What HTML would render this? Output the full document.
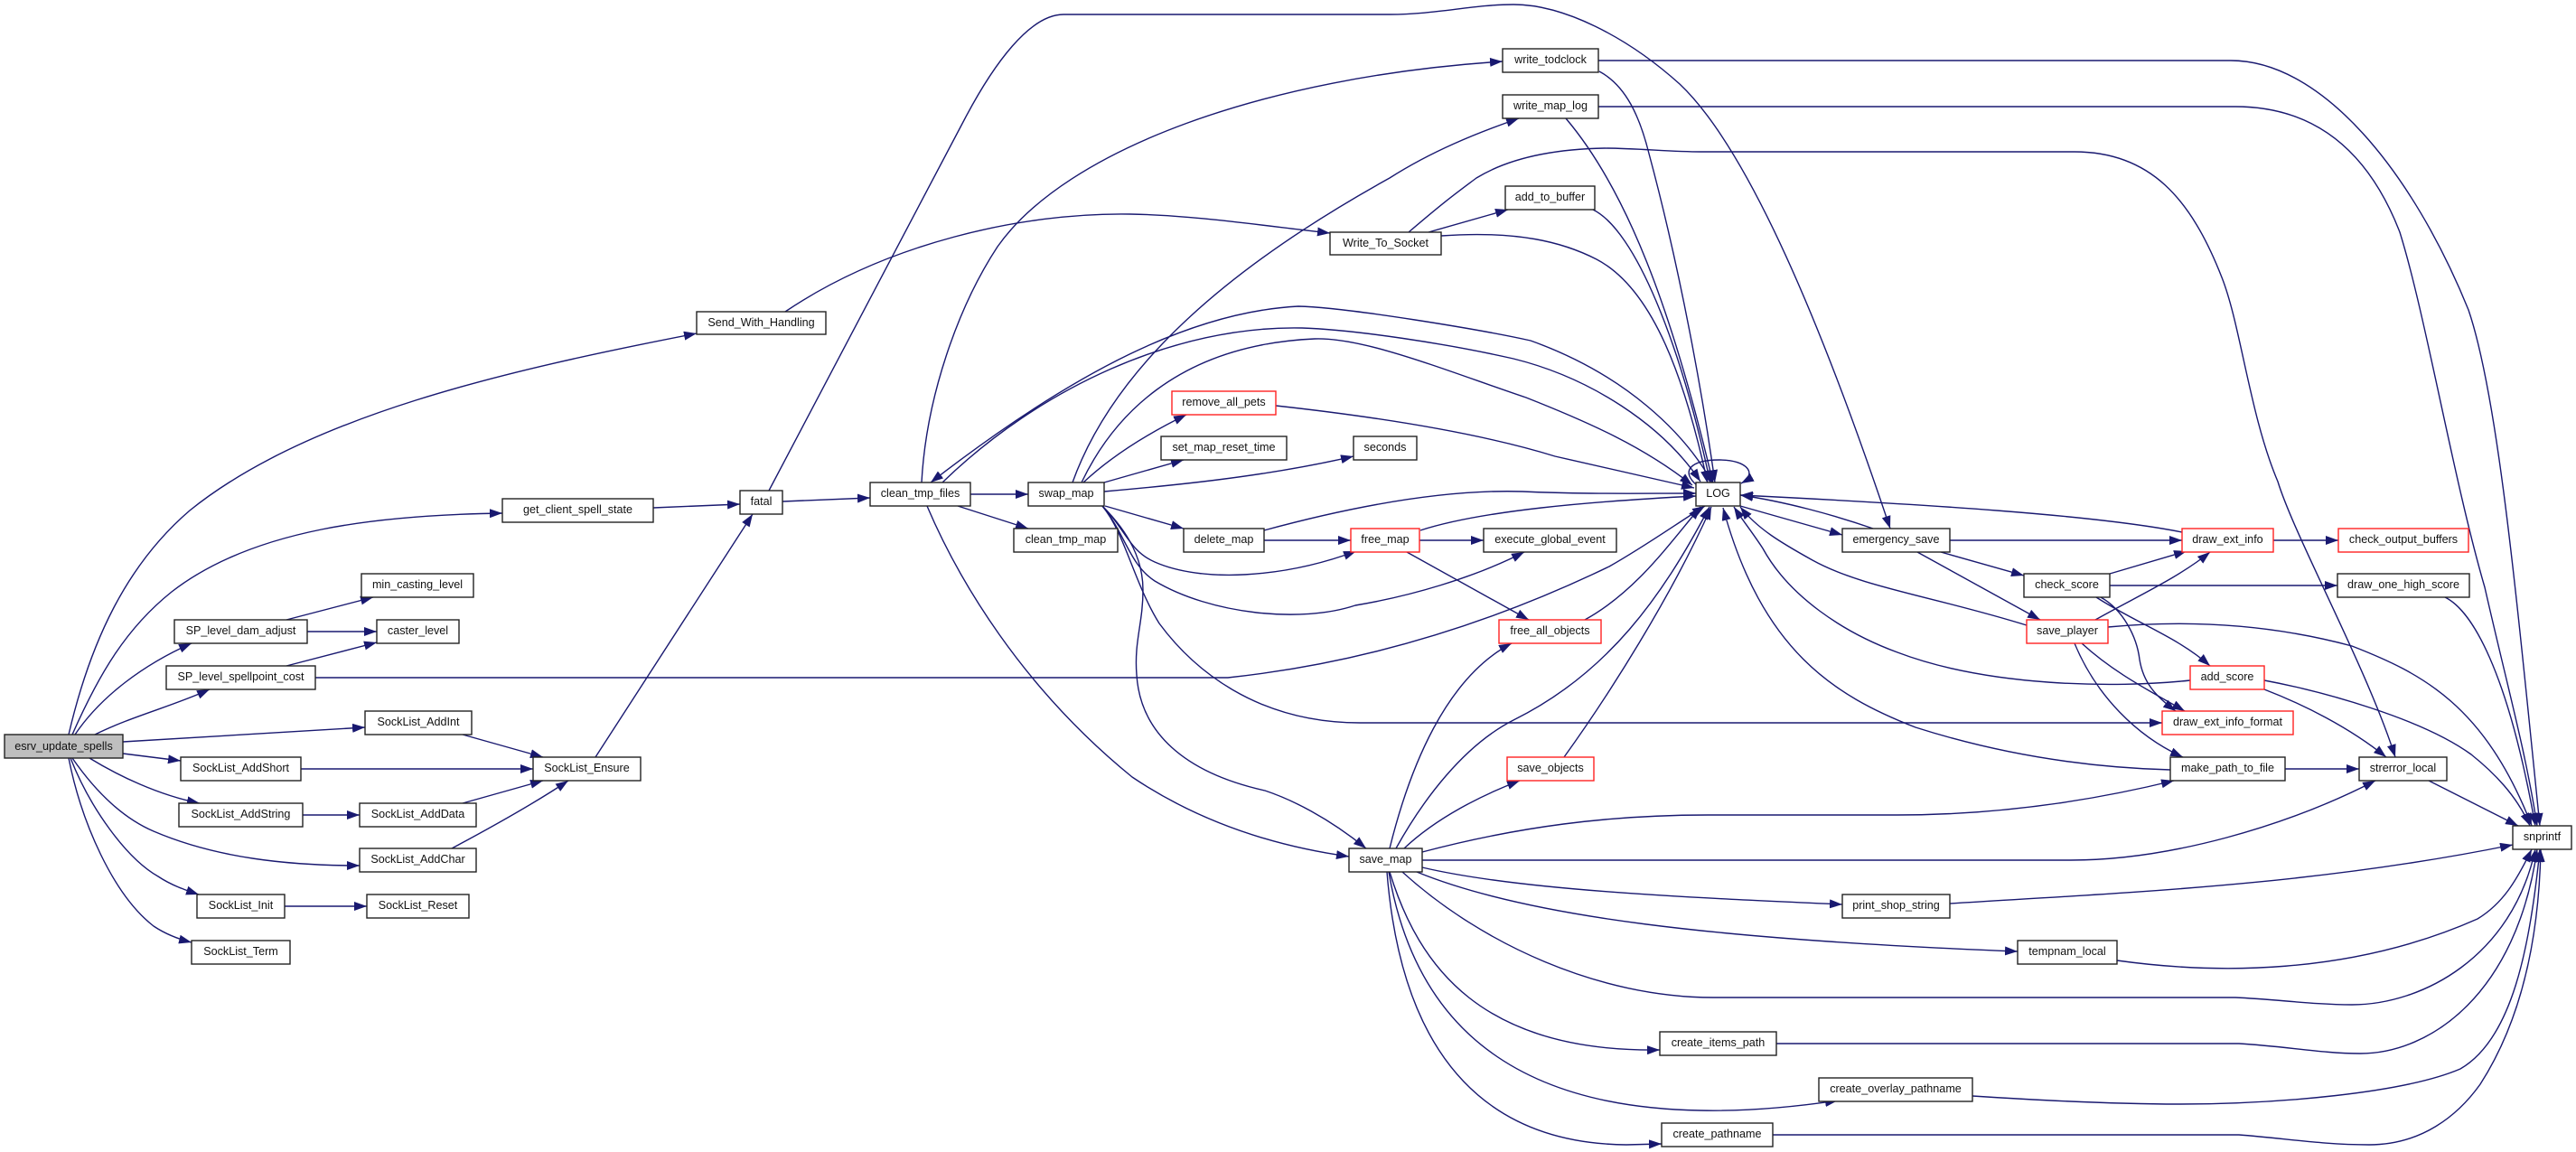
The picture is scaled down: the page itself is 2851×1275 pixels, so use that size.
<!DOCTYPE html>
<html><head><meta charset="utf-8"><style>
html,body{margin:0;padding:0;background:#fff}
svg{display:block}
.e path{fill:none;stroke:#191970;stroke-width:1.4;marker-end:url(#a)}
.n rect{fill:#fff;stroke:#222;stroke-width:1.4}
.n rect.r{stroke:#f22}
.n rect.g{fill:#bfbfbf}
text{font-family:"Liberation Sans",sans-serif;font-size:12.6px;fill:#111;text-anchor:middle}
</style></head><body>
<svg width="2851" height="1275" viewBox="0 0 2851 1275" xmlns="http://www.w3.org/2000/svg">
<defs><marker id="a" markerUnits="userSpaceOnUse" markerWidth="14" markerHeight="10" refX="14" refY="5" orient="auto"><path d="M0,0L14,5L0,10z" fill="#191970"/></marker></defs>
<g class="e">
<path d="M76,813C100,710 140,625 210,565C340,460 560,410 771,369"/>
<path d="M80,813C110,745 140,695 190,655C280,585 420,570 556,568"/>
<path d="M83,813C112,770 160,735 212,712"/>
<path d="M105,813C145,793 190,782 232,763"/>
<path d="M136,821L404,805"/>
<path d="M136,834L200,842"/>
<path d="M99,839C130,858 175,880 221,889"/>
<path d="M80,839C105,875 135,905 170,920C240,950 320,958 398,958"/>
<path d="M78,839C100,895 140,950 175,970C190,980 205,985 220,990"/>
<path d="M76,839C90,910 125,990 170,1025C185,1035 200,1040 212,1043"/>
<path d="M317,686L413,661"/>
<path d="M340,699L417,699"/>
<path d="M317,737L417,711"/>
<path d="M349,750L1359,750C1500,735 1640,695 1781,627C1820,605 1855,580 1887,560"/>
<path d="M512,813L601,838"/>
<path d="M333,851L590,851"/>
<path d="M335,902L398,902"/>
<path d="M512,889L601,864"/>
<path d="M500,939C545,915 590,890 629,864"/>
<path d="M315,1003L406,1003"/>
<path d="M659,838L833,569"/>
<path d="M723,562L819,558"/>
<path d="M866,555L963,551"/>
<path d="M851,543L1067,133C1100,70 1140,16 1177,16L1538,16C1590,16 1630,5 1675,5C1730,5 1800,40 1859,93C1930,160 2010,340 2092,585"/>
<path d="M1074,547L1138,547"/>
<path d="M1060,560L1138,585"/>
<path d="M1020,534C1025,440 1060,340 1104,273C1180,165 1400,85 1663,68"/>
<path d="M1026,560C1060,640 1130,760 1253,860C1320,905 1400,935 1493,948"/>
<path d="M1187,534C1235,400 1370,290 1538,197C1585,167 1635,147 1681,131"/>
<path d="M1895,534C1865,480 1800,415 1694,377C1640,365 1490,340 1437,339C1320,345 1190,410 1030,534"/>
<path d="M1043,534C1150,430 1300,360 1441,363C1500,365 1600,380 1675,397C1760,418 1840,470 1882,533"/>
<path d="M1197,534C1230,465 1300,382 1455,375C1510,373 1600,410 1689,440C1760,468 1820,495 1873,537"/>
<path d="M1199,534C1230,505 1270,480 1313,459"/>
<path d="M1222,534L1310,509"/>
<path d="M1222,544C1290,538 1400,528 1498,505"/>
<path d="M1223,560L1310,585"/>
<path d="M1220,560C1245,585 1250,610 1278,622C1330,645 1420,640 1501,610"/>
<path d="M1220,560C1245,590 1250,625 1278,643C1340,680 1440,690 1500,670C1560,660 1630,640 1687,611"/>
<path d="M1220,560C1245,590 1255,645 1283,690C1320,740 1390,800 1505,800L2393,800"/>
<path d="M1220,560C1250,590 1265,620 1265,653C1265,690 1255,710 1258,747C1262,810 1310,855 1400,875C1430,885 1470,905 1512,939"/>
<path d="M1878,537C1860,522 1870,509 1903,509C1935,509 1945,525 1927,535"/>
<path d="M1770,79C1800,95 1815,130 1825,170C1860,300 1885,440 1898,534"/>
<path d="M1733,131C1800,210 1850,340 1896,535"/>
<path d="M1763,232C1810,255 1860,380 1893,535"/>
<path d="M1595,261C1680,255 1730,268 1767,287C1830,320 1865,420 1890,535"/>
<path d="M1581,257L1669,232"/>
<path d="M1559,257C1600,222 1610,215 1634,197C1670,175 1720,165 1776,164C1810,164 1850,168 1882,168L2296,168C2380,168 2425,220 2459,307C2480,360 2490,460 2521,533C2540,595 2620,740 2651,838"/>
<path d="M1769,67L2469,67C2570,67 2670,190 2732,343C2765,440 2785,660 2811,914"/>
<path d="M1769,118L2474,118C2580,118 2630,190 2656,257C2685,350 2715,530 2750,650C2775,760 2795,830 2808,914"/>
<path d="M2706,661C2735,675 2775,740 2806,914"/>
<path d="M2333,694C2420,686 2510,690 2603,715C2680,745 2750,780 2802,914"/>
<path d="M2506,753C2570,765 2680,795 2735,835C2760,855 2785,880 2800,914"/>
<path d="M2506,763C2550,780 2600,805 2641,838"/>
<path d="M2424,753C2340,762 2200,760 2100,722C2040,700 1980,660 1951,607C1940,590 1928,575 1919,561"/>
<path d="M2243,692C2140,660 2060,650 2006,620C1970,600 1945,585 1926,561"/>
<path d="M2402,852C2330,850 2230,840 2120,805C2030,770 1950,720 1907,562"/>
<path d="M1926,560L2039,592"/>
<path d="M2073,585C2030,570 1975,555 1926,548"/>
<path d="M2415,589C2320,570 2130,558 1926,548"/>
<path d="M2158,598L2415,598"/>
<path d="M2148,611L2240,637"/>
<path d="M2122,611L2258,686"/>
<path d="M2335,635L2420,610"/>
<path d="M2335,648L2587,648"/>
<path d="M2320,661C2365,690 2410,705 2446,737"/>
<path d="M2325,661C2350,675 2365,705 2368,730C2372,755 2385,770 2408,787"/>
<path d="M2319,686C2365,660 2410,640 2446,611"/>
<path d="M2304,712C2340,745 2380,765 2418,787"/>
<path d="M2296,712C2320,770 2365,815 2416,838"/>
<path d="M2516,598L2588,598"/>
<path d="M2529,851L2611,851"/>
<path d="M2688,864L2787,914"/>
<path d="M1572,587C1640,565 1760,555 1877,549"/>
<path d="M1399,587C1480,565 1590,541 1685,544C1750,547 1810,546 1877,546"/>
<path d="M1399,598L1495,598"/>
<path d="M1412,449C1530,462 1640,480 1721,505L1875,540"/>
<path d="M1571,598L1642,598"/>
<path d="M1557,611L1692,686"/>
<path d="M1754,686C1810,655 1845,605 1882,561"/>
<path d="M1538,939C1560,850 1600,750 1673,712"/>
<path d="M1545,939C1575,885 1620,825 1675,797C1780,745 1840,660 1892,561"/>
<path d="M1731,838C1780,770 1850,660 1894,561"/>
<path d="M1554,939C1590,905 1640,880 1682,864"/>
<path d="M1574,943C1680,915 1780,902 1890,902L2100,902C2200,902 2300,890 2406,864"/>
<path d="M1574,952L2292,952C2400,952 2530,915 2629,864"/>
<path d="M1574,960C1680,985 1860,993 2039,1001"/>
<path d="M2158,1000C2350,988 2560,980 2781,935"/>
<path d="M1568,965C1690,1015 1900,1040 2233,1053"/>
<path d="M2343,1063C2450,1078 2600,1080 2742,1017C2770,1000 2785,975 2802,940"/>
<path d="M1552,965C1640,1045 1770,1104 1896,1104L2474,1104C2520,1106 2560,1112 2603,1112C2680,1112 2780,1060 2806,940"/>
<path d="M1538,965C1570,1070 1640,1165 1837,1162"/>
<path d="M1966,1155L2478,1155C2530,1158 2570,1166 2612,1166C2690,1166 2785,1100 2808,940"/>
<path d="M1537,965C1560,1100 1640,1225 1882,1229C1930,1230 1980,1226 2034,1218"/>
<path d="M2183,1213C2260,1218 2340,1222 2411,1222C2520,1222 2660,1210 2723,1183C2780,1150 2800,1050 2811,940"/>
<path d="M1535,965C1545,1090 1590,1265 1800,1267L1839,1266"/>
<path d="M1962,1256L2478,1256C2530,1260 2570,1267 2622,1267C2680,1267 2720,1235 2745,1200C2790,1130 2810,1040 2812,940"/>
<path d="M869,345C980,270 1130,235 1251,237C1320,238 1400,250 1472,258"/>
</g>
<g class="n">
<rect class="g" x="5" y="813" width="131" height="26"/><text x="70.5" y="830">esrv_update_spells</text>
<rect x="400" y="635" width="124" height="26"/><text x="462" y="651">min_casting_level</text>
<rect x="193" y="686" width="147" height="26"/><text x="266.5" y="702">SP_level_dam_adjust</text>
<rect x="417" y="686" width="91" height="26"/><text x="462.5" y="702">caster_level</text>
<rect x="184" y="737" width="165" height="26"/><text x="266.5" y="753">SP_level_spellpoint_cost</text>
<rect x="404" y="787" width="118" height="26"/><text x="463" y="803">SockList_AddInt</text>
<rect x="200" y="838" width="133" height="26"/><text x="266.5" y="854">SockList_AddShort</text>
<rect x="590" y="838" width="119" height="26"/><text x="649.5" y="854">SockList_Ensure</text>
<rect x="198" y="889" width="137" height="26"/><text x="266.5" y="905">SockList_AddString</text>
<rect x="398" y="889" width="129" height="26"/><text x="462.5" y="905">SockList_AddData</text>
<rect x="398" y="939" width="129" height="26"/><text x="462.5" y="955">SockList_AddChar</text>
<rect x="218" y="990" width="97" height="26"/><text x="266.5" y="1006">SockList_Init</text>
<rect x="406" y="990" width="113" height="26"/><text x="462.5" y="1006">SockList_Reset</text>
<rect x="212" y="1041" width="109" height="26"/><text x="266.5" y="1057">SockList_Term</text>
<rect x="771" y="345" width="143" height="25"/><text x="842.5" y="361">Send_With_Handling</text>
<rect x="1663" y="54" width="106" height="26"/><text x="1716" y="70">write_todclock</text>
<rect x="1663" y="105" width="106" height="26"/><text x="1716" y="121">write_map_log</text>
<rect x="1666" y="206" width="99" height="26"/><text x="1715.5" y="222">add_to_buffer</text>
<rect x="1472" y="257" width="123" height="25"/><text x="1533.5" y="273">Write_To_Socket</text>
<rect x="556" y="552" width="167" height="26"/><text x="639.5" y="568">get_client_spell_state</text>
<rect x="819" y="543" width="47" height="26"/><text x="842.5" y="559">fatal</text>
<rect x="963" y="534" width="111" height="26"/><text x="1018.5" y="550">clean_tmp_files</text>
<rect x="1138" y="534" width="84" height="26"/><text x="1180" y="550">swap_map</text>
<rect x="1122" y="585" width="115" height="26"/><text x="1179.5" y="601">clean_tmp_map</text>
<rect class="r" x="1297" y="433" width="115" height="26"/><text x="1354.5" y="449">remove_all_pets</text>
<rect x="1285" y="483" width="139" height="26"/><text x="1354.5" y="499">set_map_reset_time</text>
<rect x="1310" y="585" width="89" height="26"/><text x="1354.5" y="601">delete_map</text>
<rect x="1498" y="483" width="70" height="26"/><text x="1533" y="499">seconds</text>
<rect x="1877" y="534" width="49" height="26"/><text x="1901.5" y="550">LOG</text>
<rect x="2039" y="585" width="119" height="26"/><text x="2098.5" y="601">emergency_save</text>
<rect class="r" x="1495" y="585" width="76" height="26"/><text x="1533" y="601">free_map</text>
<rect x="1642" y="585" width="147" height="26"/><text x="1715.5" y="601">execute_global_event</text>
<rect class="r" x="1659" y="686" width="113" height="26"/><text x="1715.5" y="702">free_all_objects</text>
<rect class="r" x="1668" y="838" width="96" height="26"/><text x="1716" y="854">save_objects</text>
<rect class="r" x="2415" y="585" width="101" height="26"/><text x="2465.5" y="601">draw_ext_info</text>
<rect class="r" x="2588" y="585" width="144" height="26"/><text x="2660" y="601">check_output_buffers</text>
<rect x="2240" y="635" width="95" height="26"/><text x="2287.5" y="651">check_score</text>
<rect x="2587" y="635" width="146" height="26"/><text x="2660" y="651">draw_one_high_score</text>
<rect class="r" x="2243" y="686" width="90" height="26"/><text x="2288" y="702">save_player</text>
<rect class="r" x="2424" y="737" width="82" height="26"/><text x="2465" y="753">add_score</text>
<rect class="r" x="2393" y="787" width="145" height="26"/><text x="2465.5" y="803">draw_ext_info_format</text>
<rect x="2402" y="838" width="127" height="26"/><text x="2465.5" y="854">make_path_to_file</text>
<rect x="2611" y="838" width="97" height="26"/><text x="2659.5" y="854">strerror_local</text>
<rect x="1493" y="939" width="81" height="26"/><text x="1533.5" y="955">save_map</text>
<rect x="2039" y="990" width="119" height="26"/><text x="2098.5" y="1006">print_shop_string</text>
<rect x="1837" y="1142" width="129" height="26"/><text x="1901.5" y="1158">create_items_path</text>
<rect x="2013" y="1193" width="170" height="26"/><text x="2098" y="1209">create_overlay_pathname</text>
<rect x="1839" y="1243" width="123" height="26"/><text x="1900.5" y="1259">create_pathname</text>
<rect x="2233" y="1041" width="110" height="26"/><text x="2288" y="1057">tempnam_local</text>
<rect x="2781" y="914" width="65" height="26"/><text x="2813.5" y="930">snprintf</text>
</g>
</svg>
</body></html>
